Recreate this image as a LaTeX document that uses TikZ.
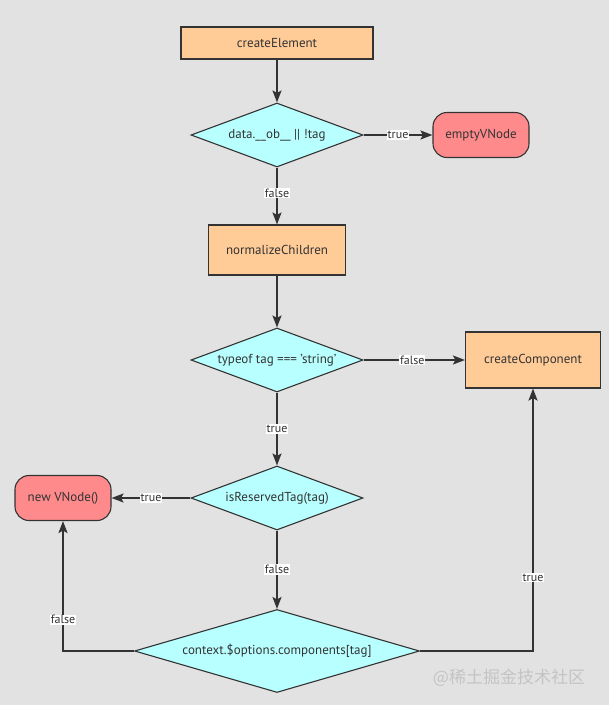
\documentclass[tikz,border=0pt]{standalone}
\usepackage{fontspec}
\setmainfont{PT Sans}
\newfontfamily\cjkfont{Noto Sans CJK SC}
\usepackage{xcolor}
\usetikzlibrary{arrows.meta,shapes.geometric,positioning,calc}
\definecolor{peach}{HTML}{FFCB97}
\definecolor{paleCyan}{HTML}{B8FFFF}
\definecolor{salmon}{HTML}{FF8A8C}
\definecolor{canvasGray}{HTML}{E2E2E2}
\definecolor{inkGray}{HTML}{333333}
\definecolor{markGray}{HTML}{C4C4C4}

\begin{document}
\begin{tikzpicture}[x=1pt, y=-1pt,
    every node/.style = {text=inkGray, font=\fontsize{13}{15}\selectfont},
    process/.style = {shape=rectangle, draw=inkGray, line width=1.1pt,
      fill=peach, align=center, inner sep=0pt},
    decision/.style = {shape=diamond, draw=inkGray, line width=1.1pt,
      fill=paleCyan, align=center, inner sep=0pt, aspect=2.69,
      minimum width=172pt, minimum height=64pt},
    terminal/.style = {shape=rectangle, rounded corners=14pt, draw=inkGray,
      line width=1.1pt, fill=salmon, align=center, inner sep=0pt,
      minimum width=96pt, minimum height=45pt},
    post/.style = {-{Stealth[length=12pt,width=9pt,inset=2.5pt]},
      draw=inkGray, line width=1.8pt},
    cond/.style = {fill=white, inner sep=1pt, font=\fontsize{12}{13}\selectfont}]

  \useasboundingbox[fill=canvasGray] (0,0) rectangle (609,705);

  \node [process, minimum width=192pt, minimum height=32pt] (createElement) at (277,43) {createElement};
  \node [decision] (dataCheck) at (277,135) {data.\_\_ob\_\_ || !tag};
  \node [terminal] (emptyVNode) at (481,135) {emptyVNode};
  \node [process, minimum width=137pt, minimum height=50pt] (normalizeChildren) at (277,250) {normalizeChildren};
  \node [decision] (stringCheck) at (277,360) {typeof tag === 'string'};
  \node [process, minimum width=135pt, minimum height=56pt] (createComponent) at (533,360) {createComponent};
  \node [decision] (reservedCheck) at (277,498) {isReservedTag(tag)};
  \node [terminal] (newVNode) at (63,498) {new VNode()};
  \node [decision, aspect=3.43, minimum width=285pt, minimum height=83pt] (componentCheck) at (277,651) {context.\$options.components[tag]};

  \draw [post] (createElement) -- (dataCheck);
  \draw [post] (dataCheck) -- node [cond] {true} (emptyVNode);
  \draw [post] (dataCheck) -- node [cond, pos=0.45] {false} (normalizeChildren);
  \draw [post] (normalizeChildren) -- (stringCheck);
  \draw [post] (stringCheck) -- node [cond, pos=0.48] {false} (createComponent);
  \draw [post] (stringCheck) -- node [cond, pos=0.5] {true} (reservedCheck);
  \draw [post] (reservedCheck) -- node [cond, pos=0.5] {true} (newVNode);
  \draw [post] (reservedCheck) -- node [cond, pos=0.5] {false} (componentCheck);
  \draw [post] (componentCheck.west) -| node [cond, pos=0.62] {false} (newVNode.south);
  \draw [post] (componentCheck.east) -| node [cond, pos=0.64] {true} (createComponent.south);

  \node [text=markGray, font=\cjkfont\fontsize{17}{19}\selectfont] (watermark) at (509,678) {@稀土掘金技术社区};
\end{tikzpicture}
\end{document}
